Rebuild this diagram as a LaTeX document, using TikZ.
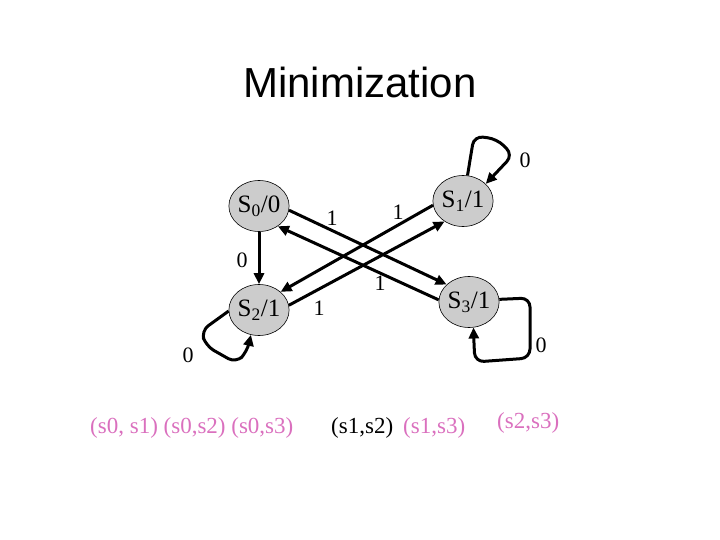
\documentclass[tikz,border=0pt]{standalone}
\usepackage{fontspec}
\setmainfont{Liberation Serif}
\newfontfamily\titlefont{Liberation Sans}
\usetikzlibrary{shapes.geometric,arrows.meta}
\definecolor{statefill}{RGB}{204,204,204}
\definecolor{pairpink}{RGB}{218,112,190}
\tikzset{
  state/.style={ellipse,draw=black,line width=0.6pt,fill=statefill,minimum width=60pt,minimum height=51pt,inner sep=0pt,font=\fontsize{25}{25}\selectfont},
  trans/.style={line width=3pt,-{Triangle[length=11pt,width=10pt]}},
  loopy/.style={trans,rounded corners=9pt},
  lbl/.style={font=\fontsize{22}{22}\selectfont,inner sep=0pt},
  pair/.style={font=\fontsize{23}{23}\selectfont,inner sep=0pt,anchor=base west}
}
\begin{document}
\begin{tikzpicture}[x=1pt,y=-1pt]
\useasboundingbox (0,0) rectangle (720,540);
\node[anchor=base,font=\titlefont\fontsize{42}{42}\selectfont,inner sep=0pt] (title) at (360,98) {Minimization};

\node[state] (s0) at (259,206) {S\textsubscript{0}/0};
\node[state] (s1) at (463,201) {S\textsubscript{1}/1};
\node[state] (s2) at (259,310) {S\textsubscript{2}/1};
\node[state] (s3) at (469,302) {S\textsubscript{3}/1};

\draw[trans] (s0.-8) -- (s3.142);
\draw[trans] (s3.176) -- (s0.-47);
\draw[trans] (s1.-172) -- (s2.40);
\draw[trans] (s2.9) -- (s1.-132);
\draw[trans] (s0.south) -- (s2.north);

\draw[loopy] (s1.80) -- (474,136) -- (497,139) -- (513,155) -- (s1.37);
\draw[loopy] (s2.182) -- (201,331) -- (206,346) -- (236,363) -- (247,352) -- (s2.-108);
\draw[loopy] (s3.5) -- (530,298) -- (530,358) -- (475,362) -- (474,345) -- (s3.-80);

\node[lbl] (l1) at (332,218) {1};
\node[lbl] (l2) at (398,212) {1};
\node[lbl] (l3) at (380,283) {1};
\node[lbl] (l4) at (319,308) {1};
\node[lbl] (l5) at (242,260) {0};
\node[lbl] (l6) at (525,160) {0};
\node[lbl] (l7) at (188,355) {0};
\node[lbl] (l8) at (541,345) {0};

\node[pair,text=pairpink] (p1) at (90,433) {(s0, s1) (s0,s2) (s0,s3)};
\node[pair,text=black] (p2) at (331,433) {(s1,s2)};
\node[pair,text=pairpink] (p3) at (403,433) {(s1,s3)};
\node[pair,text=pairpink] (p4) at (497,428) {(s2,s3)};
\end{tikzpicture}
\end{document}
